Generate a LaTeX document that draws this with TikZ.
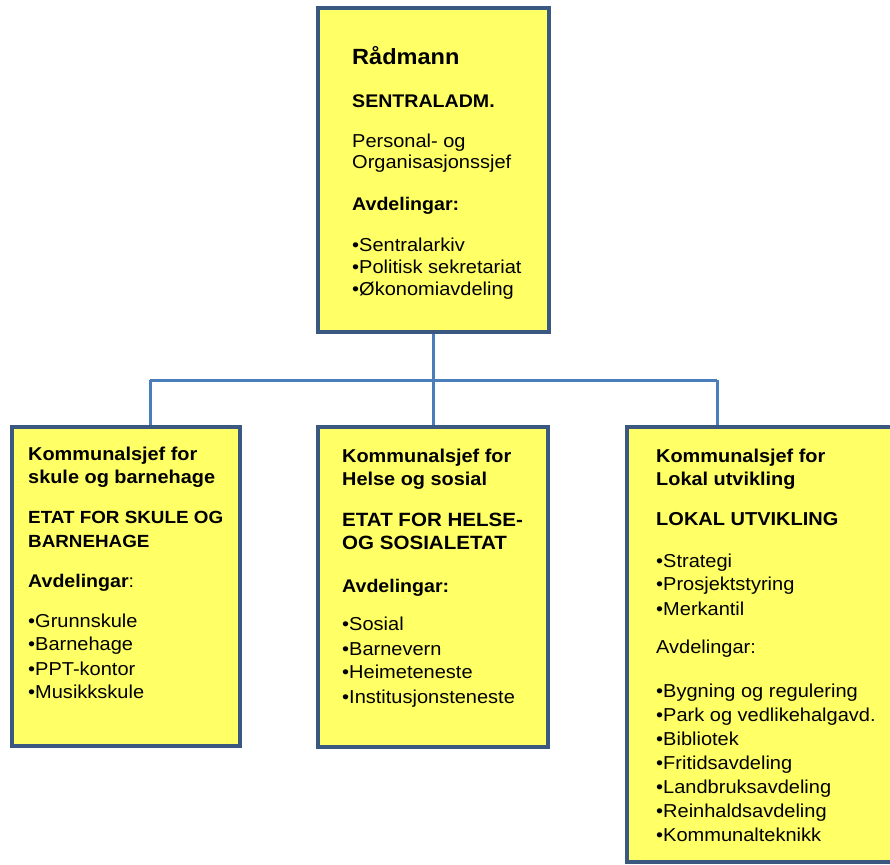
\documentclass[tikz,border=0pt]{standalone}
\usepackage{fontspec}
\setmainfont{Liberation Sans}[FakeStretch=1.07]
\usetikzlibrary{backgrounds}
\definecolor{boxy}{RGB}{255,255,102}
\definecolor{bordc}{RGB}{59,89,128}
\definecolor{linec}{RGB}{74,126,187}
\tikzset{
  orgbox/.style={draw=bordc, line width=4pt, fill=boxy, rectangle, inner sep=0pt},
  conn/.style={draw=linec, line width=3pt},
  hb/.style={anchor=base west, inner sep=0pt, font=\bfseries\fontsize{#1}{#1}\selectfont},
  hb/.default=18.6,
  rg/.style={anchor=base west, inner sep=0pt, font=\fontsize{#1}{#1}\selectfont},
  rg/.default=18.7
}
\begin{document}
\begin{tikzpicture}[x=1pt,y=-1pt]
\useasboundingbox (0,0) rectangle (890,864);
\clip (0,0) rectangle (890,864);

% boxes
\node[orgbox, minimum width=231pt, minimum height=324pt] (top) at (433.5,170) {};
\node[orgbox, minimum width=228pt, minimum height=319pt] (lft) at (126,586.5) {};
\node[orgbox, minimum width=230pt, minimum height=320pt] (mid) at (433,587) {};
\node[orgbox, minimum width=278pt, minimum height=435pt] (rgt) at (766,644.5) {};

% connectors
\coordinate (bl) at (150,380);
\coordinate (br) at (717,380);
\begin{scope}[on background layer]
  \draw[conn] (top.south) -- (top.south |- mid.north);
  \draw[conn] (bl) -- (br);
  \draw[conn] (bl) -- (bl |- lft.north);
  \draw[conn] (br) -- (br |- rgt.north);
\end{scope}

% top box text
\node[hb=22] (t1) at (352,65) {Rådmann};
\node[hb=18.3] (t2) at (352,107) {SENTRALADM.};
\node[rg] (t3) at (352,147) {Personal- og};
\node[rg] (t4) at (352,168) {Organisasjonssjef};
\node[hb=18.3] (t5) at (352,210) {Avdelingar:};
\node[rg] (t6) at (352,251) {•Sentralarkiv};
\node[rg] (t7) at (352,273) {•Politisk sekretariat};
\node[rg] (t8) at (352,295) {•Økonomiavdeling};

% left box text
\node[hb] (l1) at (28,460) {Kommunalsjef for};
\node[hb] (l2) at (28,483) {skule og barnehage};
\node[hb=17.6] (l3) at (28,523) {ETAT FOR SKULE OG};
\node[hb=17.6] (l4) at (28,547) {BARNEHAGE};
\node[rg] (l5) at (28,587) {\fontsize{18.3}{18.3}\selectfont\bfseries Avdelingar\mdseries:};
\node[rg] (l6) at (28,627) {•Grunnskule};
\node[rg] (l7) at (28,650) {•Barnehage};
\node[rg] (l8) at (28,675) {•PPT-kontor};
\node[rg] (l9) at (28,698) {•Musikkskule};

% middle box text
\node[hb] (m1) at (342,462) {Kommunalsjef for};
\node[hb] (m2) at (342,485) {Helse og sosial};
\node[hb=19.2] (m3) at (342,526) {ETAT FOR HELSE-};
\node[hb=19.2] (m4) at (342,549) {OG SOSIALETAT};
\node[hb=18.3] (m5) at (342,592) {Avdelingar:};
\node[rg] (m6) at (342,630) {•Sosial};
\node[rg] (m7) at (342,655) {•Barnevern};
\node[rg] (m8) at (342,678) {•Heimeteneste};
\node[rg] (m9) at (342,703) {•Institusjonsteneste};

% right box text
\node[hb] (r1) at (656,462) {Kommunalsjef for};
\node[hb] (r2) at (656,485) {Lokal utvikling};
\node[hb=18.7] (r3) at (656,525) {LOKAL UTVIKLING};
\node[rg] (r4) at (656,567) {•Strategi};
\node[rg] (r5) at (656,590) {•Prosjektstyring};
\node[rg] (r6) at (656,615) {•Merkantil};
\node[rg] (r7) at (656,653) {Avdelingar:};
\node[rg] (r8) at (656,697) {•Bygning og regulering};
\node[rg] (r9) at (656,721) {•Park og vedlikehalgavd.};
\node[rg] (r10) at (656,745) {•Bibliotek};
\node[rg] (r11) at (656,769) {•Fritidsavdeling};
\node[rg] (r12) at (656,793) {•Landbruksavdeling};
\node[rg] (r13) at (656,817) {•Reinhaldsavdeling};
\node[rg] (r14) at (656,841) {•Kommunalteknikk};
\end{tikzpicture}
\end{document}
